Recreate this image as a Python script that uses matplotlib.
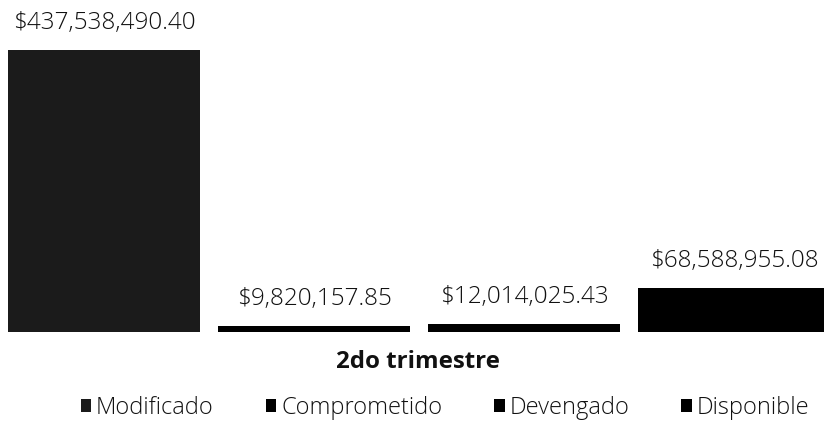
import matplotlib
matplotlib.use("Agg")
import matplotlib.pyplot as plt
from matplotlib.patches import Patch

# data
series = ["Modificado", "Comprometido", "Devengado", "Disponible"]
values = [437538490.40, 9820157.85, 12014025.43, 68588955.08]
labels = ["$437,538,490.40", "$9,820,157.85", "$12,014,025.43", "$68,588,955.08"]
category = "2do trimestre"
colors = ["#1b1b1b", "#000000", "#000000", "#000000"]

plt.rcParams["font.family"] = ["Open Sans", "DejaVu Sans"]

W, H = 824, 423
fig = plt.figure(figsize=(W / 100, H / 100), dpi=100)
base_px = 91                                  # baseline height from bottom
ax = fig.add_axes([0, base_px / H, 1, 1 - base_px / H])

xs = list(range(len(values)))
ax.bar(xs, values, width=192 / 210, color=colors, linewidth=0)
for x, v, lab in zip(xs, values, labels):
    ax.annotate(lab, (x, v), xytext=(0, 15), textcoords="offset points",
                ha="center", va="baseline", fontsize=17.5, color="#111",
                fontweight="light")

ax.set_xlim(-104 / 210, (W - 104) / 210)
ax.set_ylim(0, values[0] * (H - base_px) / 282)
ax.axis("off")

fig.text(418 / W, 1 - 368 / H, category, ha="center", va="baseline",
         fontsize=17.3, fontweight="bold", color="#111")

handles = [Patch(facecolor=c, edgecolor="none") for c in colors]
fig.legend(handles, series, loc="center", bbox_to_anchor=(445 / W, 1 - 408 / H),
           ncol=4, frameon=False, handlelength=0.45, handleheight=0.45,
           handletextpad=0.2, columnspacing=2.2, labelcolor="#111",
           prop={"size": 17, "weight": "light"})

fig.savefig("out.png", dpi=100)
